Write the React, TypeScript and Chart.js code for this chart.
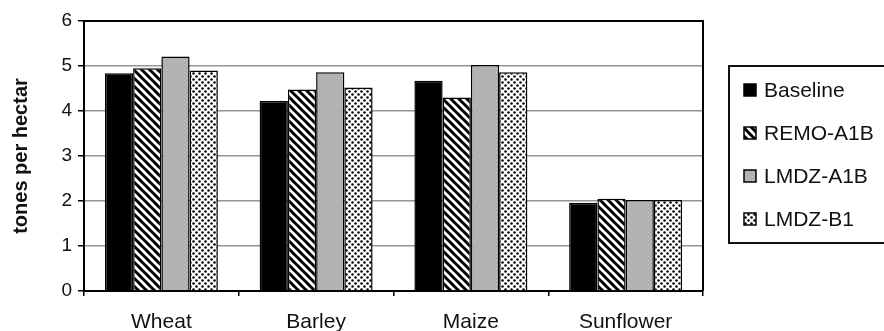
import { useEffect, useRef } from "react";
import { Chart, registerables } from "chart.js";

Chart.register(...registerables);

// Crop yields (tones per hectar) per climate scenario
const crops = ["Wheat", "Barley", "Maize", "Sunflower"];
const scenarios = ["Baseline", "REMO-A1B", "LMDZ-A1B", "LMDZ-B1"];
const baseline = [4.84, 4.22, 4.67, 1.96];
const remoA1B = [4.95, 4.48, 4.3, 2.05];
const lmdzA1B = [5.21, 4.86, 5.02, 2.02];
const lmdzB1 = [4.9, 4.52, 4.86, 2.02];
const yMin = 0;
const yMax = 6;
const yStep = 1;
const yTitle = "tones per hectar";

const FONT = "'Liberation Sans', Arial, Helvetica, sans-serif";

function makeTile(size: number, paint: (g: CanvasRenderingContext2D, s: number) => void) {
  const c = document.createElement("canvas");
  c.width = size;
  c.height = size;
  const g = c.getContext("2d")!;
  paint(g, size);
  return g.createPattern(c, "repeat")!;
}

function makeFills() {
  const solid = "#000000";
  const hatch = makeTile(8, (g, s) => {
    g.fillStyle = "#ffffff";
    g.fillRect(0, 0, s, s);
    g.strokeStyle = "#000000";
    g.lineWidth = 3;
    g.beginPath();
    for (const dx of [-s, 0, s]) {
      g.moveTo(dx - 1, -1);
      g.lineTo(dx + s + 1, s + 1);
    }
    g.stroke();
  });
  const gray = makeTile(4, (g, s) => {
    g.fillStyle = "#b0b0b0";
    g.fillRect(0, 0, s, s);
    g.fillStyle = "#c6c6c6";
    g.fillRect(0, 0, 1, 1);
    g.fillRect(2, 2, 1, 1);
  });
  const dots = makeTile(6, (g, s) => {
    g.fillStyle = "#ffffff";
    g.fillRect(0, 0, s, s);
    g.fillStyle = "#000000";
    for (const [cx, cy] of [
      [1.5, 1.5],
      [4.5, 4.5],
    ]) {
      g.beginPath();
      g.arc(cx, cy, 1.25, 0, Math.PI * 2);
      g.fill();
    }
  });
  return [solid, hatch, gray, dots];
}

// Closes the plot frame on the top and right sides
const frame = {
  id: "frame",
  afterDatasetsDraw(chart: any) {
    const { ctx, chartArea: a } = chart;
    ctx.save();
    ctx.strokeStyle = "#000";
    ctx.lineWidth = 2;
    ctx.beginPath();
    ctx.moveTo(a.left, a.top);
    ctx.lineTo(a.right, a.top);
    ctx.lineTo(a.right, a.bottom);
    ctx.stroke();
    ctx.restore();
  },
};

// Boxed legend to the right of the plot
const boxLegend = {
  id: "boxLegend",
  afterDraw(chart: any) {
    const { ctx, chartArea: a, width } = chart;
    const left = a.right + 26;
    const top = 66;
    const bottom = 243;
    ctx.save();
    ctx.strokeStyle = "#111";
    ctx.lineWidth = 2;
    ctx.strokeRect(left, top, width - left + 4, bottom - top);
    const step = 43;
    chart.data.datasets.forEach((ds: any, i: number) => {
      const cy = top + 24 + i * step;
      ctx.fillStyle = ds.backgroundColor;
      ctx.fillRect(left + 15, cy - 6, 12, 12);
      ctx.strokeStyle = "#000";
      ctx.lineWidth = 1.5;
      ctx.strokeRect(left + 15, cy - 6, 12, 12);
      ctx.fillStyle = "#111";
      ctx.font = `21px ${FONT}`;
      ctx.textBaseline = "middle";
      ctx.textAlign = "left";
      ctx.fillText(ds.label, left + 35, cy + 1);
    });
    ctx.restore();
  },
};

export default function App() {
  const ref = useRef<HTMLCanvasElement>(null);

  useEffect(() => {
    document.body.style.margin = "0";
    const canvas = ref.current!;
    const fills = makeFills();
    const series = [baseline, remoA1B, lmdzA1B, lmdzB1];

    const chart = new Chart(canvas, {
      type: "bar",
      data: {
        labels: crops,
        datasets: series.map((values, i) => ({
          label: scenarios[i],
          data: values,
          backgroundColor: fills[i] as any,
          borderColor: "#000",
          borderWidth: 1.5,
          categoryPercentage: 0.73,
          barPercentage: 1,
        })),
      },
      options: {
        responsive: false,
        animation: false,
        devicePixelRatio: 1,
        layout: { padding: { top: 21, right: 181, left: 0, bottom: 0 } },
        plugins: {
          legend: { display: false },
          tooltip: { enabled: false },
        },
        scales: {
          x: {
            grid: {
              display: true,
              drawOnChartArea: false,
              offset: true,
              tickLength: 5,
              tickColor: "#000",
              lineWidth: 1.5,
            },
            border: { display: true, color: "#000", width: 2 },
            ticks: {
              color: "#111",
              font: { family: FONT, size: 21 },
              padding: 14,
              maxRotation: 0,
            },
            afterFit(scale: any) {
              scale.height = 40;
            },
          },
          y: {
            min: yMin,
            max: yMax,
            ticks: {
              stepSize: yStep,
              color: "#111",
              font: { family: FONT, size: 19 },
              padding: 6,
            },
            grid: {
              color: "#959595",
              lineWidth: 1.5,
              tickColor: "#000",
              tickLength: 6,
            },
            border: { display: true, color: "#000", width: 2 },
            title: {
              display: true,
              text: yTitle,
              color: "#111",
              font: { family: FONT, size: 20, weight: "bold" },
              padding: { top: 9, bottom: 0 },
            },
            afterFit(scale: any) {
              scale.width = 84;
            },
          },
        },
      },
      plugins: [frame, boxLegend],
    });

    return () => chart.destroy();
  }, []);

  return (
    <div style={{ width: 884, height: 331 }}>
      <canvas ref={ref} width={884} height={331} style={{ display: "block" }} />
    </div>
  );
}
